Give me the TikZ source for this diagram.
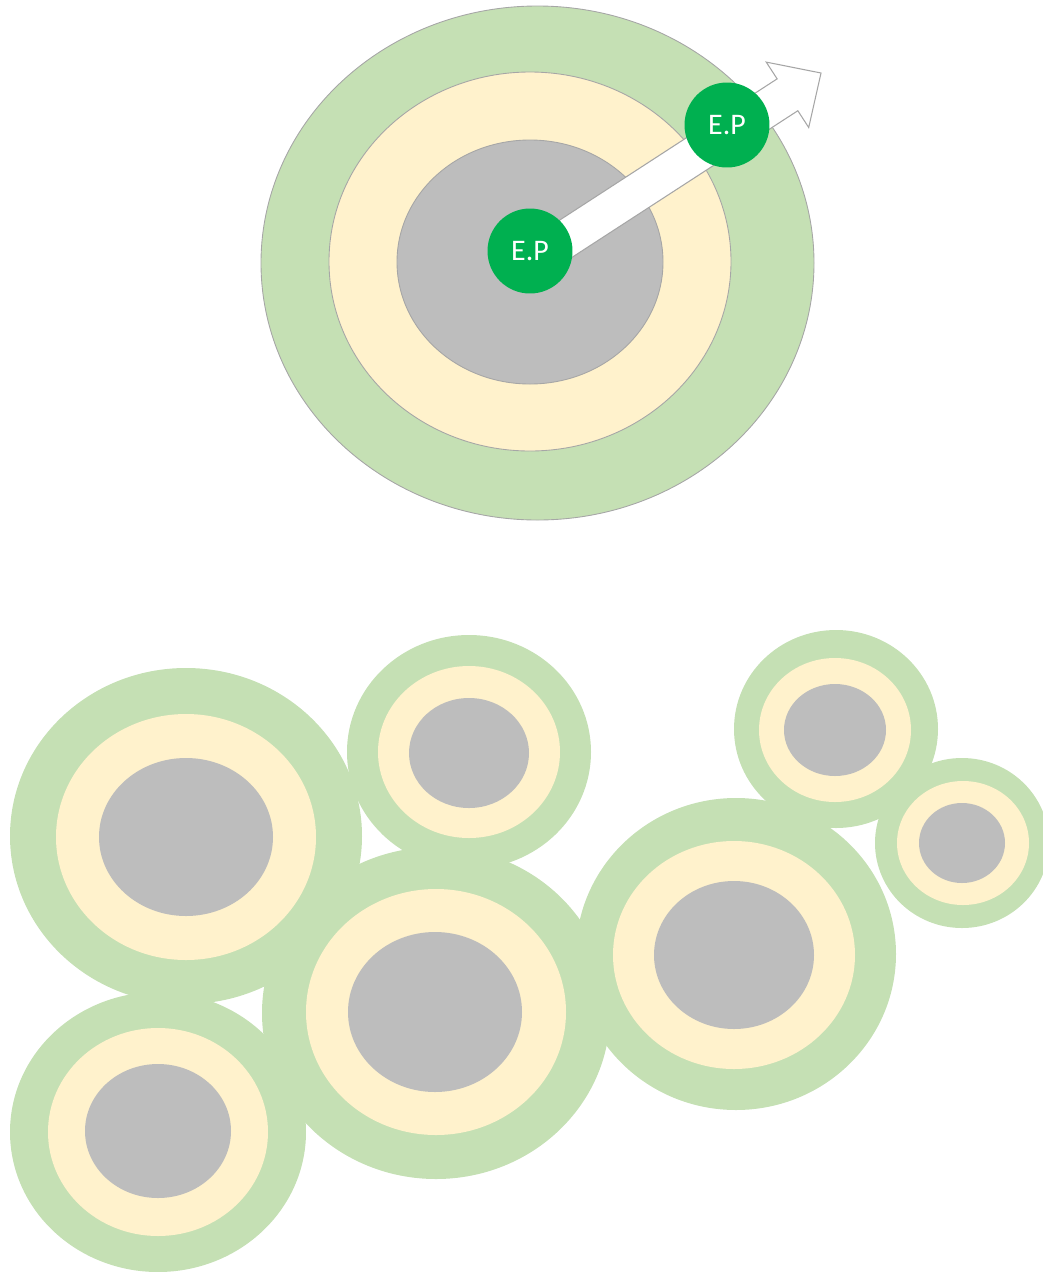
\documentclass[tikz,border=0pt]{standalone}
\usepackage{fontspec}
\setmainfont{Carlito}
\usepackage{tikz}
\usetikzlibrary{positioning}
\definecolor{ringgreen}{HTML}{C5E0B4}
\definecolor{ringyellow}{HTML}{FFF2CC}
\definecolor{ringgray}{HTML}{BDBDBD}
\definecolor{epgreen}{HTML}{00B050}
\definecolor{edgegray}{HTML}{A6A6A6}

\begin{document}
\begin{tikzpicture}[x=0.02cm,y=-0.02cm,
  ring/.style={draw=edgegray,line width=0.5pt},
  ep/.style={circle,fill=epgreen,text=white,inner sep=0pt,minimum size=1.7cm,font=\fontsize{17}{20}\selectfont},
  move/.style={fill=white,draw=edgegray,line width=0.6pt,line join=miter}
]
\useasboundingbox (0,0) rectangle (1043,1272);

% target
\filldraw[ring,fill=ringgreen] (537.5,263) ellipse [x radius=276.5,y radius=257];
\filldraw[ring,fill=ringyellow] (530,261.5) ellipse [x radius=201,y radius=189.5];
\filldraw[ring,fill=ringgray] (530,262) ellipse [x radius=133,y radius=122];

% block arrow from the centre outwards
\coordinate (core) at (530,262);
\begin{scope}[shift={(core)},rotate=33]
  \draw[move] (0,-19) -- (307,-19) -- (307,-39) -- (347,0) -- (307,39) -- (307,19) -- (0,19) -- cycle;
\end{scope}

\node[ep] (ep1) at (530,251) {E.P};
\node[ep] (ep2) at (727,125) {E.P};

% cluster of targets
\foreach \cx/\cy/\gx/\gy in {186/836/176/168, 469/752/122/117, 436/1013/174/166, 736/954/160/156,
    836/729/102/99, 962/843/87/85, 158/1132/148/140}
  \fill[ringgreen] (\cx,\cy) ellipse [x radius=\gx,y radius=\gy];
\foreach \cx/\cy/\yx/\yy in {186/837/130/123, 469/752/91/86, 436/1012/130/123, 734/955/121/114,
    835/730/76/72, 963/843/66/62, 158/1132/110/104}
  \fill[ringyellow] (\cx,\cy) ellipse [x radius=\yx,y radius=\yy];
\foreach \cx/\cy/\sx/\sy in {186/837/87/79, 469/753/60/55, 435/1012/87/80, 734/955/80/74,
    835/730/51/46, 962/843/43/40, 158/1131/73/67}
  \fill[ringgray] (\cx,\cy) ellipse [x radius=\sx,y radius=\sy];
\end{tikzpicture}
\end{document}
